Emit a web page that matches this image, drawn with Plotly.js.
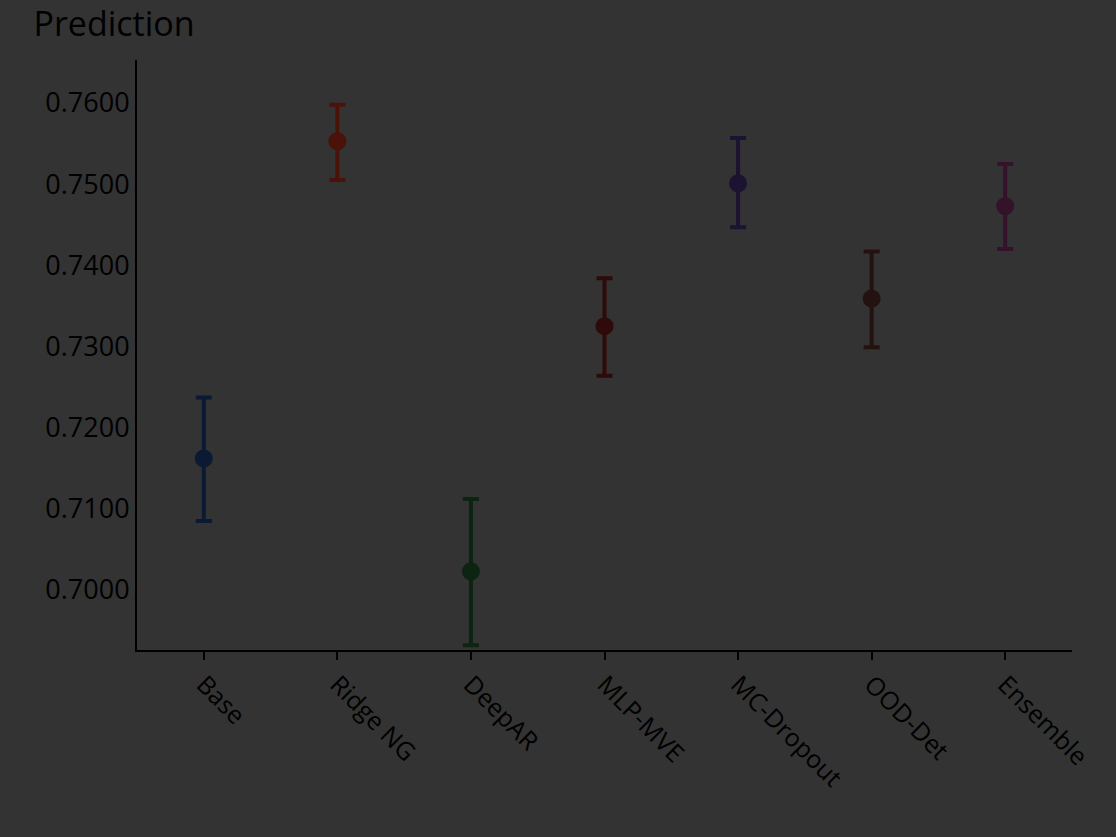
<!DOCTYPE html>
<html>
<head>
<meta charset="utf-8">
<script src="https://cdn.plot.ly/plotly-3.0.1.min.js"></script>
<style>html,body{margin:0;padding:0;background:#333333;}#chart{width:1116px;height:837px;}</style>
</head>
<body>
<div id="chart"></div>
<script>
const categories = ["Base", "Ridge NG", "DeepAR", "MLP-MVE", "MC-Dropout", "OOD-Det", "Ensemble"];
const means = [0.7162, 0.7553, 0.7023, 0.7325, 0.7501, 0.7359, 0.7473];
const upper = [0.7237, 0.7598, 0.7112, 0.7384, 0.7557, 0.7417, 0.7525];
const lower = [0.7085, 0.7505, 0.6932, 0.7264, 0.7447, 0.7299, 0.7420];
const colors = ["#0b1a33", "#4a1208", "#0c2412", "#2e0a0a", "#1c1232", "#241210", "#34122a"];

const traces = categories.map((c, i) => ({
  type: "scatter",
  mode: "markers",
  x: [c],
  y: [means[i]],
  showlegend: false,
  marker: {color: colors[i], size: 18},
  error_y: {
    type: "data",
    symmetric: false,
    array: [upper[i] - means[i]],
    arrayminus: [means[i] - lower[i]],
    color: colors[i],
    thickness: 4,
    width: 8
  }
}));

const layout = {
  width: 1116,
  height: 837,
  paper_bgcolor: "#333333",
  plot_bgcolor: "#333333",
  margin: {l: 137, r: 44, t: 60, b: 187},
  font: {family: "Open Sans, sans-serif", color: "#000000", size: 22},
  title: {text: "Prediction", x: 0.03, xanchor: "left", y: 0.985, yanchor: "top", font: {size: 34, color: "#000000"}},
  xaxis: {
    type: "category",
    range: [-0.5, 6.5],
    showline: true, linecolor: "#000000", linewidth: 2,
    showgrid: false, zeroline: false,
    ticks: "outside", ticklen: 8, tickcolor: "#000000", tickwidth: 2,
    tickangle: 45,
    tickfont: {size: 25, color: "#000000"}
  },
  yaxis: {
    range: [0.6926, 0.7653],
    showline: true, linecolor: "#000000", linewidth: 2,
    showgrid: false, zeroline: false,
    dtick: 0.01, tick0: 0.70,
    tickformat: ".4f",
    ticks: "",
    tickfont: {size: 27, color: "#000000"}
  }
};

Plotly.newPlot("chart", traces, layout, {displayModeBar: false, staticPlot: true});
</script>
</body>
</html>
